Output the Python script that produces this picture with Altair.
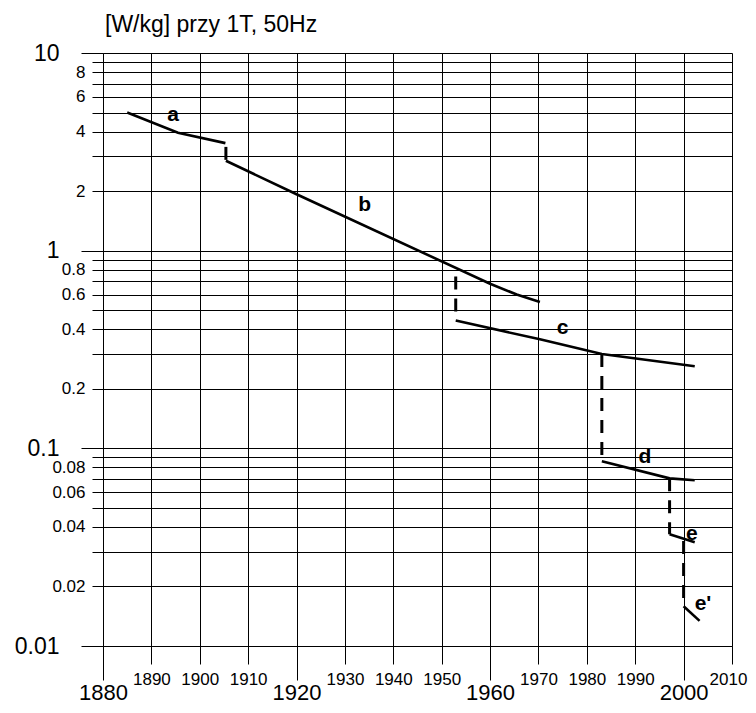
import altair as alt
import pandas as pd

# ---- data -------------------------------------------------------------
# solid curve segments (year, W/kg)
a_years = [1885.0, 1895.5, 1905.3]
a_vals = [5.0, 3.95, 3.5]
b_years = [1905.4, 1920.0, 1960.0, 1965.5, 1970.3]
b_vals = [2.85, 1.93, 0.68, 0.60, 0.55]
c_years = [1952.9, 1970.3, 1983.1, 2002.3]
c_vals = [0.443, 0.356, 0.30, 0.26]
d_years = [1983.1, 1997.1, 2002.3]
d_vals = [0.086, 0.0705, 0.0689]
e_years = [1997.1, 2002.3]
e_vals = [0.0368, 0.0335]
e2_years = [2000.0, 2003.3]
e2_vals = [0.0159, 0.0134]

# dashed vertical transitions: year, upper value, lower value
dash_names = ["ab", "bc", "cd", "de", "ee'"]
dash_years = [1905.4, 1952.9, 1983.1, 1997.1, 2000.0]
dash_top = [3.35, 0.74, 0.30, 0.0705, 0.034]
dash_bottom = [2.88, 0.486, 0.086, 0.0368, 0.0159]

# curve labels
lab_text = ["a", "b", "c", "d", "e", "e'"]
lab_years = [1894.5, 1934.1, 1975.0, 1992.0, 2001.7, 2004.0]
lab_vals = [4.86, 1.71, 0.404, 0.090, 0.0368, 0.0163]

# axes
y_ticks = [0.01, 0.02, 0.03, 0.04, 0.05, 0.06, 0.07, 0.08, 0.09,
           0.1, 0.2, 0.3, 0.4, 0.5, 0.6, 0.7, 0.8, 0.9,
           1, 2, 3, 4, 5, 6, 7, 8, 9, 10]
y_labeled = [0.01, 0.02, 0.04, 0.06, 0.08, 0.1, 0.2, 0.4, 0.6, 0.8,
             1, 2, 4, 6, 8, 10]
y_major = [0.01, 0.1, 1, 10]
x_ticks = [1880, 1890, 1900, 1910, 1920, 1930, 1940, 1950, 1960, 1970,
           1980, 1990, 2000, 2010]
x_major = [1880, 1920, 1960, 2000]

title_text = ["[W/kg] przy 1T, 50Hz"]

# ---- tables ------------------------------------------------------------
rows = []
for name, ys, vs in [("a", a_years, a_vals), ("b", b_years, b_vals),
                     ("c", c_years, c_vals), ("d", d_years, d_vals),
                     ("e", e_years, e_vals), ("e'", e2_years, e2_vals)]:
    for i, (yy, vv) in enumerate(zip(ys, vs)):
        rows.append({"seg": name, "i": i, "year": yy, "val": vv})
solid_df = pd.DataFrame(rows)

drows = []
for n, yy, t, b in zip(dash_names, dash_years, dash_top, dash_bottom):
    drows.append({"seg": n, "i": 0, "year": yy, "val": t})
    drows.append({"seg": n, "i": 1, "year": yy, "val": b})
dash_df = pd.DataFrame(drows)

lab_df = pd.DataFrame({"t": lab_text, "year": lab_years, "val": lab_vals})
title_df = pd.DataFrame({"t": title_text})

FONT = "Liberation Sans"
y_major_test = f"indexof({y_major}, datum.value) >= 0"
x_major_test = f"indexof({x_major}, datum.value) >= 0"

x_scale = alt.Scale(domain=[1880, 2010], nice=False, zero=False)
y_scale = alt.Scale(type="log", domain=[0.01, 10], nice=False)

x_axis = alt.Axis(
    values=x_ticks, format="d", title=None, grid=True,
    gridColor="black", gridWidth=1, gridOpacity=1,
    domainColor="black", domainWidth=1,
    tickColor="black", tickWidth=1,
    tickSize={"condition": {"test": x_major_test, "value": 34}, "value": 18},
    labelFontSize={"condition": {"test": x_major_test, "value": 22}, "value": 17},
    labelPadding={"condition": {"test": x_major_test, "value": 2}, "value": 7},
    labelOffset={"condition": {"test": "datum.value == 2010", "value": -4}, "value": 0},
    labelFont=FONT, labelColor="black", labelOverlap=False, labelFlush=False,
    labelBound=False,
)
y_axis = alt.Axis(
    values=y_ticks, title=None, grid=True,
    gridColor="black", gridWidth=1, gridOpacity=1,
    domainColor="black", domainWidth=1,
    tickColor="black", tickWidth=1,
    tickSize={"condition": {"test": y_major_test, "value": 22}, "value": 11},
    labelFontSize={"condition": {"test": y_major_test, "value": 23}, "value": 17},
    labelPadding={"condition": {"test": y_major_test, "value": 22}, "value": 7},
    labelExpr=f"indexof({y_labeled}, datum.value) >= 0 ? format(datum.value, '~g') : ''",
    labelFont=FONT, labelColor="black", labelOverlap=False, labelBound=False,
)

solid = alt.Chart(solid_df).mark_line(color="black", strokeWidth=2.6).encode(
    x=alt.X("year:Q", scale=x_scale, axis=x_axis),
    y=alt.Y("val:Q", scale=y_scale, axis=y_axis),
    detail="seg:N",
    order="i:Q",
)

dashed = alt.Chart(dash_df).mark_line(
    color="black", strokeWidth=3, strokeDash=[13, 9]
).encode(
    x=alt.X("year:Q", scale=x_scale),
    y=alt.Y("val:Q", scale=y_scale),
    detail="seg:N",
    order="i:Q",
)

labels = alt.Chart(lab_df).mark_text(
    font=FONT, fontSize=21, fontWeight="bold", color="black",
    align="center", baseline="middle",
).encode(
    x=alt.X("year:Q", scale=x_scale),
    y=alt.Y("val:Q", scale=y_scale),
    text="t:N",
)

title = alt.Chart(title_df).mark_text(
    font=FONT, fontSize=23, color="black", align="left", baseline="alphabetic",
).encode(
    x=alt.value(2), y=alt.value(-21), text="t:N",
)

chart = alt.layer(solid, dashed, labels, title).properties(
    width=629, height=593,
    padding={"left": 95, "top": 45, "right": 16, "bottom": 58},
    autosize=alt.AutoSizeParams(type="none"),
).configure_view(strokeWidth=0).configure(background="white")

chart.save("out.html", embed_options={"renderer": "svg", "actions": False})
